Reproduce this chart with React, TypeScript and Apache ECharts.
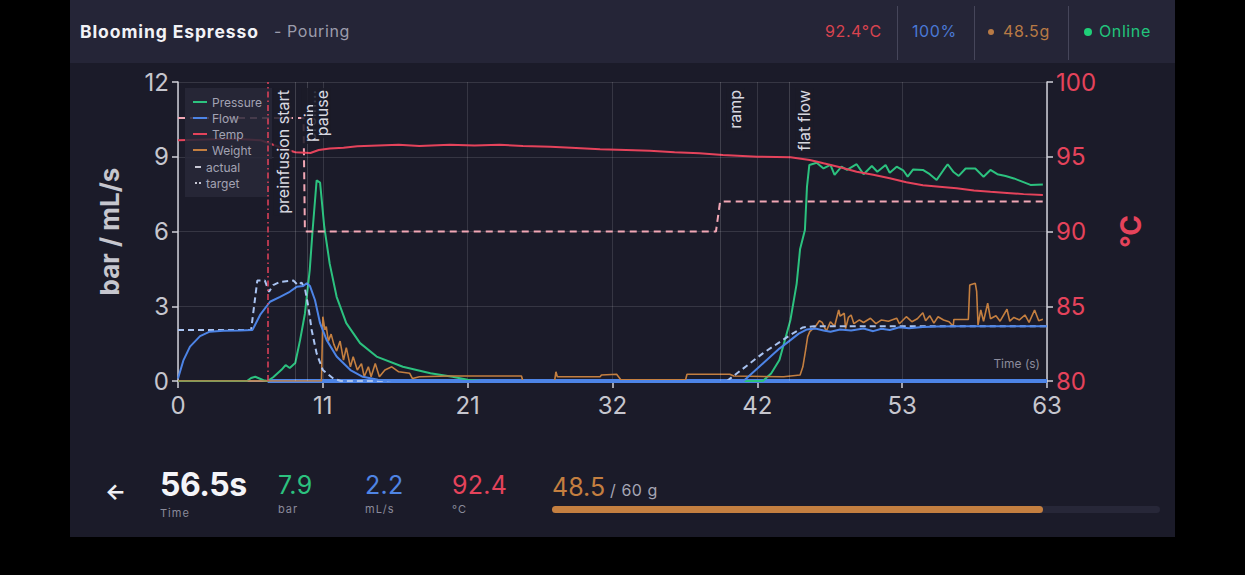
import React, { useEffect, useRef } from 'react';
import * as echarts from 'echarts';

// ---------- data ----------
const xTickStep = 10.5;
const xMax = 63;

const pressure: number[][] = [
  [0, 0], [5.0, 0], [5.3, 0.12], [5.6, 0.17], [5.9, 0.1], [6.2, 0.03], [6.5, 0], [6.9, 0.15], [7.2, 0.3],
  [7.5, 0.45], [7.8, 0.64], [8.1, 0.52], [8.5, 0.72], [8.85, 1.64], [9.2, 2.7], [9.55, 4.45], [9.76, 6.06],
  [10.05, 8.05], [10.3, 7.96], [10.6, 6.2], [11.0, 4.7], [11.5, 3.38], [12.2, 2.32], [13.2, 1.52], [14.4, 0.98],
  [16.3, 0.57], [18.3, 0.31], [19.9, 0.17], [21.0, 0.05], [22, 0], [42.4, 0], [43.0, 0.3], [43.6, 0.84],
  [44.4, 2.45], [44.85, 3.9], [45.1, 5.3], [45.45, 6.06], [45.6, 7.8], [45.77, 8.67], [46.3, 8.76], [46.8, 8.53],
  [47.3, 8.67], [47.6, 8.27], [48.1, 8.6], [48.5, 8.47], [49.2, 8.7], [49.7, 8.3], [50.3, 8.63], [50.7, 8.4],
  [51.3, 8.67], [51.6, 8.36], [52.1, 8.6], [52.6, 8.44], [52.9, 8.2], [53.3, 8.49], [54.0, 8.47], [54.5, 8.3],
  [55.0, 8.07], [55.5, 8.47], [55.8, 8.7], [56.2, 8.4], [56.6, 8.23], [57.1, 8.53], [57.8, 8.53], [58.4, 8.2],
  [58.9, 8.47], [59.4, 8.3], [60.0, 8.23], [60.6, 8.13], [61.2, 8.0], [61.8, 7.87], [62.7, 7.89],
];

const flow: number[][] = [
  [0, 0.1], [0.4, 0.84], [0.87, 1.38], [1.6, 1.8], [2.3, 1.98], [3.3, 2.02], [4.5, 2.03], [5.4, 2.05],
  [5.95, 2.65], [6.67, 3.18], [7.4, 3.38], [8.1, 3.58], [8.6, 3.78], [9.08, 3.81], [9.33, 3.92], [9.57, 3.81],
  [9.93, 3.25], [10.3, 2.32], [10.78, 1.64], [11.5, 0.98], [12.5, 0.44], [13.4, 0.17], [14.5, 0.05], [15.5, 0],
  [41.0, 0], [42.5, 0.75], [43.6, 1.3], [44.4, 1.64], [45.0, 1.9], [45.6, 2.07], [46.2, 2.11], [46.8, 2.03],
  [47.3, 1.98], [48.0, 2.07], [48.8, 2.03], [49.7, 2.11], [50.4, 2.0], [51.0, 2.1], [51.6, 2.05], [52.3, 2.16],
  [53.0, 2.12], [54, 2.17], [55, 2.19], [56.5, 2.2], [58, 2.2], [60, 2.2], [63, 2.2],
];

const flowBaseline: number[][] = [[6.5, 0], [63, 0]];

const flowTarget: number[][] = [
  [0, 2.05], [5.3, 2.05], [5.75, 4.03], [6.3, 4.03], [6.6, 3.58], [6.9, 3.85], [7.4, 3.98], [8.36, 4.03],
  [8.7, 3.85], [8.95, 3.95], [9.2, 3.72], [9.45, 2.98], [9.69, 2.05], [10.05, 1.11], [10.5, 0.44], [11.26, 0.1],
  [11.8, 0], [39.8, 0], [42.4, 1.11], [44.4, 1.85], [45.3, 2.15], [46.1, 2.2], [63, 2.2],
];

const temp: number[][] = [
  [0, 96.1], [2, 96.15], [4, 96.2], [6, 96.1], [7.5, 95.6], [8.5, 95.3], [9.6, 95.25], [10.2, 95.45],
  [11.0, 95.55], [12, 95.6], [13, 95.7], [14.5, 95.75], [16, 95.8], [17.5, 95.72], [19.7, 95.8], [21.5, 95.75],
  [23.3, 95.8], [25, 95.72], [27, 95.67], [28.5, 95.6], [30.6, 95.5], [32.5, 95.45], [34.2, 95.4], [36, 95.3],
  [37.8, 95.23], [39.5, 95.12], [42, 95.0], [44.4, 94.96], [45.8, 94.78], [46.8, 94.56], [48, 94.3], [49.2, 94.0],
  [50.4, 93.8], [51.6, 93.56], [52.8, 93.3], [54, 93.1], [55.2, 93.0], [56.45, 92.89], [57.7, 92.75],
  [58.9, 92.66], [60.1, 92.58], [61.3, 92.5], [62.7, 92.44],
];

const tempTarget: number[][] = [
  [0, 97.6], [9.1, 97.6], [9.2, 90], [39.0, 90], [39.3, 92], [63, 92],
];

const weight: number[][] = [
  [0, 0], [10.4, 0], [10.5, 2.58], [10.65, 2.05], [10.75, 2.18], [10.9, 1.6], [11.1, 1.88], [11.3, 1.47],
  [11.5, 1.2], [11.75, 1.6], [12.0, 0.84], [12.2, 1.34], [12.5, 0.57], [12.7, 0.97], [13.0, 0.44], [13.3, 0.7],
  [13.5, 0.17], [13.8, 0.57], [14.0, 0.17], [14.3, 0.7], [14.6, 0.17], [15.0, 0.44], [15.5, 0.57], [16.0, 0.37],
  [16.8, 0.31], [17.0, 0.1], [17.5, 0.17], [19.7, 0.2], [24.9, 0.2], [25.0, 0], [27.3, 0], [27.4, 0.37],
  [27.5, 0.17], [30.6, 0.17], [30.7, 0.24], [31.8, 0.27], [32.1, 0.05], [36.8, 0.05], [36.9, 0.27], [40.0, 0.27],
  [40.3, 0.2], [43.9, 0.17], [45.1, 0.24], [45.3, 0.57], [45.5, 1.24], [45.65, 1.78], [45.8, 1.98], [46.2, 2.18],
  [46.5, 2.42], [46.7, 2.35], [47.0, 2.0], [47.3, 2.38], [47.6, 2.2], [47.9, 2.85], [48.0, 2.6], [48.3, 2.72],
  [48.4, 2.1], [48.6, 2.55], [48.8, 2.65], [49.0, 2.3], [49.4, 2.45], [49.7, 2.35], [50.2, 2.52], [50.6, 2.3],
  [51.0, 2.45], [51.5, 2.4], [52.1, 2.52], [52.3, 2.3], [52.8, 2.58], [53.2, 2.38], [53.6, 2.5], [54.0, 2.74],
  [54.2, 2.42], [54.5, 2.62], [54.8, 2.32], [55.1, 2.58], [55.5, 2.45], [55.9, 2.38], [56.2, 2.2], [56.25, 2.47],
  [57.3, 2.47], [57.4, 3.85], [57.8, 3.92], [57.9, 3.6], [58.0, 2.25], [58.2, 2.85], [58.4, 2.4], [58.7, 3.12],
  [58.9, 2.5], [59.3, 2.62], [59.6, 2.4], [60.1, 2.88], [60.3, 2.4], [60.6, 2.55], [61.0, 2.45], [61.4, 2.65],
  [61.7, 2.35], [62.1, 2.85], [62.4, 2.42], [62.7, 2.48],
];

const eventTimes = [6.5, 8.5, 9.35, 39.3, 44.3];
const eventNames = ['preinfusion start', 'prein…', 'pause', 'ramp', 'flat flow'];

const legendSeries = ['Pressure', 'Flow', 'Temp', 'Weight'];
const legendStyles = ['actual', 'target'];

// live readouts
const shotTime = 56.5;
const nowPressure = 7.9;
const nowFlow = 2.2;
const nowTemp = 92.4;
const nowWeight = 48.5;
const targetWeight = 60;
const powerPct = 100;

// ---------- styles ----------
const C = {
  pressure: '#2cc27f',
  flow: '#4d84e6',
  flowTarget: '#a9c3f1',
  temp: '#e5435b',
  tempTarget: '#f2a7b5',
  weight: '#c47f40',
  axis: '#c6c6ce',
  grid: 'rgba(255,255,255,0.12)',
};
const FONT = 'Inter, "Noto Sans", "DejaVu Sans", sans-serif';

function buildOption() {
  const line = (name: string, data: number[][], color: string, extra: any = {}) => ({
    name,
    type: 'line',
    data,
    showSymbol: false,
    symbol: 'none',
    itemStyle: { color },
    lineStyle: { color, width: 2, ...(extra.lineStyle || {}) },
    yAxisIndex: extra.yAxisIndex ?? 0,
    z: extra.z ?? 2,
    silent: true,
  });
  const legendText = { color: '#a3a3b3', fontSize: 12, fontFamily: FONT };
  return {
    animation: false,
    backgroundColor: 'transparent',
    textStyle: { fontFamily: FONT },
    grid: { left: 108, right: 128, top: 19, bottom: 72 },
    legend: [
      {
        orient: 'vertical',
        left: 115,
        top: 25,
        data: legendSeries.map((n) => ({ name: n, icon: 'rect' })),
        itemWidth: 14,
        itemHeight: 2,
        itemGap: 4,
        selectedMode: false,
        textStyle: legendText,
        backgroundColor: 'rgba(40,40,56,0.85)',
        padding: [8, 10, 3, 8],
      },
      {
        orient: 'vertical',
        left: 115,
        top: 95,
        data: [
          { name: legendStyles[0], icon: 'path://M0,0H6V2H0Z' },
          { name: legendStyles[1], icon: 'path://M0,0H2V2H0ZM4,0H6V2H4Z' },
        ],
        itemWidth: 6,
        itemHeight: 2,
        itemGap: 4,
        selectedMode: false,
        textStyle: legendText,
        backgroundColor: 'rgba(40,40,56,0.85)',
        padding: [3, 29, 8, 10],
      },
    ],
    xAxis: {
      type: 'value',
      min: 0,
      max: xMax,
      interval: xTickStep,
      name: 'Time (s)',
      nameLocation: 'end',
      nameGap: -7,
      nameTextStyle: { color: '#8c8c9c', fontSize: 12, align: 'right', verticalAlign: 'bottom', padding: [0, 0, 12, 0] },
      axisLine: { show: true, lineStyle: { color: '#d0d0d8', width: 1.5 } },
      axisTick: { show: true, length: 7, lineStyle: { color: '#d0d0d8', width: 1.5 } },
      axisLabel: { color: C.axis, fontSize: 24, margin: 12, formatter: (v: number) => String(Math.round(v)) },
      splitLine: { show: true, lineStyle: { color: C.grid, width: 1 } },
    },
    yAxis: [
      {
        type: 'value',
        min: 0,
        max: 12,
        interval: 3,
        position: 'left',
        name: 'bar / mL/s',
        nameLocation: 'middle',
        nameGap: 56,
        nameTextStyle: { color: C.axis, fontSize: 26, fontWeight: 'bold' },
        axisLine: { show: true, lineStyle: { color: '#d0d0d8', width: 1.5 } },
        axisTick: { show: true, length: 6, lineStyle: { color: '#d0d0d8', width: 1.5 } },
        axisLabel: { color: C.axis, fontSize: 24, margin: 9 },
        splitLine: { show: true, lineStyle: { color: C.grid, width: 1 } },
      },
      {
        type: 'value',
        min: 80,
        max: 100,
        interval: 5,
        position: 'right',
        name: '°C',
        nameLocation: 'middle',
        nameGap: 70,
        nameRotate: 90,
        nameTextStyle: { color: C.temp, fontSize: 28, fontWeight: 'bold' },
        axisLine: { show: true, lineStyle: { color: '#d0d0d8', width: 1.5 } },
        axisTick: { show: true, length: 6, lineStyle: { color: '#d0d0d8', width: 1.5 } },
        axisLabel: { color: C.temp, fontSize: 24, margin: 9 },
        splitLine: { show: false },
      },
    ],
    series: [
      line('Flow baseline', flowBaseline, C.flow, { lineStyle: { width: 4 }, z: 1 }),
      line('Pressure', pressure, C.pressure),
      line('Weight', weight, C.weight, { lineStyle: { width: 1.6 } }),
      line('Flow target', flowTarget, C.flowTarget, { lineStyle: { type: [6, 4] } }),
      line('Flow', flow, C.flow),
      line('Temp target', tempTarget, C.tempTarget, { yAxisIndex: 1, lineStyle: { type: [7, 5] } }),
      line('Temp', temp, C.temp, { yAxisIndex: 1 }),
      line(legendStyles[0], [], '#c8c8d4'),
      line(legendStyles[1], [], '#c8c8d4'),
      {
        name: 'events',
        type: 'line',
        data: [],
        z: 5,
        silent: true,
        markLine: {
          silent: true,
          symbol: ['none', 'none'],
          animation: false,
          lineStyle: { color: 'rgba(255,255,255,0.16)', width: 1, type: 'solid' },
          label: {
            show: true,
            position: 'insideEndBottom',
            formatter: '{b}',
            color: '#d8d8e0',
            fontSize: 16,
            fontFamily: FONT,
            backgroundColor: 'rgba(27,27,40,0.85)',
            padding: [1, 2],
            distance: 6,
          },
          data: eventTimes.map((t, i) => ({
            name: eventNames[i],
            xAxis: t,
            lineStyle:
              i === 0
                ? { color: C.temp, width: 1.5, type: [6, 3, 1.5, 3] }
                : { color: 'rgba(255,255,255,0.16)', width: 1, type: 'solid' },
          })),
        },
      },
    ],
  };
}

function Stat(props: { left: number; value: string; unit: string; color: string; size: number; bold?: boolean }) {
  const { left, value, unit, color, size, bold } = props;
  return (
    <div style={{ position: 'absolute', left, top: 468 }}>
      <div style={{ fontSize: size, lineHeight: '34px', color, fontWeight: bold ? 700 : 400, letterSpacing: bold ? -0.5 : 0.3 }}>{value}</div>
      <div style={{ fontSize: 11, color: '#8a8a9a', marginTop: bold ? 4 : 0, letterSpacing: 1 }}>{unit}</div>
    </div>
  );
}

export default function App() {
  const ref = useRef<HTMLDivElement>(null);
  useEffect(() => {
    if (!ref.current) return;
    const chart = echarts.init(ref.current, null, { renderer: 'svg' });
    chart.setOption(buildOption() as any);
    return () => chart.dispose();
  }, []);

  const sep = (left: number) => (
    <div style={{ position: 'absolute', left, top: 6, width: 1, height: 54, background: '#46465a' }} />
  );

  return (
    <div style={{ position: 'fixed', left: 0, top: 0, width: 1245, height: 575, background: '#000', fontFamily: FONT, overflow: 'hidden' }}>
      <div style={{ position: 'absolute', left: 70, top: 0, width: 1105, height: 537, background: '#1b1b29' }}>
        {/* header */}
        <div style={{ position: 'absolute', left: 0, top: 0, width: 1105, height: 63, background: '#252537' }}>
          <div style={{ position: 'absolute', left: 10, top: 21, fontSize: 17.5, fontWeight: 700, color: '#f2f2f6', letterSpacing: 0.9 }}>
            Blooming Espresso
          </div>
          <div style={{ position: 'absolute', left: 204, top: 21, fontSize: 16, color: '#9c9cac', letterSpacing: 0.6 }}>
            - Pouring
          </div>
          <div style={{ position: 'absolute', left: 755, top: 21, fontSize: 16, color: '#d9434f', letterSpacing: 0.6 }}>
            {nowTemp.toFixed(1)}°C
          </div>
          {sep(827)}
          <div style={{ position: 'absolute', left: 842, top: 21, fontSize: 16, color: '#4a78d4', letterSpacing: 0.6 }}>
            {powerPct}%
          </div>
          {sep(904)}
          <div style={{ position: 'absolute', left: 918, top: 29, width: 6, height: 6, borderRadius: 3, background: '#b87a45' }} />
          <div style={{ position: 'absolute', left: 933, top: 21, fontSize: 16, color: '#b87a45', letterSpacing: 0.6 }}>
            {nowWeight.toFixed(1)}g
          </div>
          {sep(998)}
          <div style={{ position: 'absolute', left: 1014, top: 28, width: 8, height: 8, borderRadius: 4, background: '#1fcf78' }} />
          <div style={{ position: 'absolute', left: 1029, top: 21, fontSize: 16, color: '#22c47c', letterSpacing: 0.6 }}>
            Online
          </div>
        </div>

        {/* chart */}
        <div ref={ref} style={{ position: 'absolute', left: 0, top: 63, width: 1105, height: 390 }} />

        {/* footer */}
        <div style={{ position: 'absolute', left: 35, top: 477, fontSize: 22, fontWeight: 700, color: '#f0f0f4', lineHeight: '28px' }}>←</div>
        <Stat left={90} value={`${shotTime.toFixed(1)}s`} unit="Time" color="#f4f4f8" size={32} bold />
        <Stat left={208} value={nowPressure.toFixed(1)} unit="bar" color="#2cc27f" size={25} />
        <Stat left={295} value={nowFlow.toFixed(1)} unit="mL/s" color="#4f84e4" size={25} />
        <Stat left={382} value={nowTemp.toFixed(1)} unit="°C" color="#e5435b" size={25} />
        <div style={{ position: 'absolute', left: 482, top: 470, lineHeight: '34px', whiteSpace: 'nowrap' }}>
          <span style={{ fontSize: 25, color: '#c47f40' }}>{nowWeight.toFixed(1)}</span>
          <span style={{ fontSize: 16, color: '#a6a6b4', letterSpacing: 0.5 }}> / {targetWeight} g</span>
        </div>
        <div style={{ position: 'absolute', left: 482, top: 506, width: 608, height: 7, borderRadius: 4, background: '#272738' }}>
          <div style={{ width: `${(nowWeight / targetWeight) * 100}%`, height: 7, borderRadius: 4, background: '#c47f40' }} />
        </div>
      </div>
    </div>
  );
}
